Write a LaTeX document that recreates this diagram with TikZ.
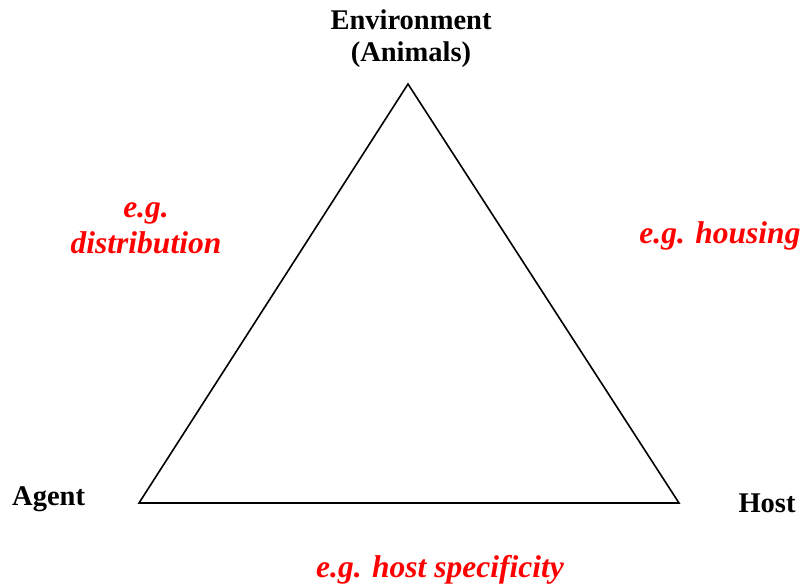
\documentclass[tikz,border=0pt]{standalone}
\usepackage{fontspec}
\setmainfont{Liberation Serif}
\usetikzlibrary{positioning}

\begin{document}
\begin{tikzpicture}[
    x=1pt, y=-1pt,
    corner/.style={font=\fontsize{28.5}{32}\selectfont\bfseries, align=center, inner sep=0},
    example/.style={font=\fontsize{31.5}{36}\selectfont\bfseries\itshape, text=red, align=center, inner sep=0},
 ]
    \useasboundingbox (0,0) rectangle (801,584);

    \coordinate (Top) at (408,84);
    \coordinate (Left) at (139,503);
    \coordinate (Right) at (679,503);
    \draw[line width=1.6pt, line join=miter] (Left) -- (Top) -- (Right) -- cycle;

    \node[corner] (Env) at (411,39) {Environment\\(Animals)};
    \node[corner, anchor=west] (Agent) at (12,499) {Agent};
    \node[corner] (Host) at (767,503) {Host};

    \node[example] (Dist) at (146,228) {e.g.\\distribution};
    \node[example] (Housing) at (720,236) {e.g. housing};
    \node[example] (Spec) at (440,570) {e.g. host specificity};
\end{tikzpicture}
\end{document}
